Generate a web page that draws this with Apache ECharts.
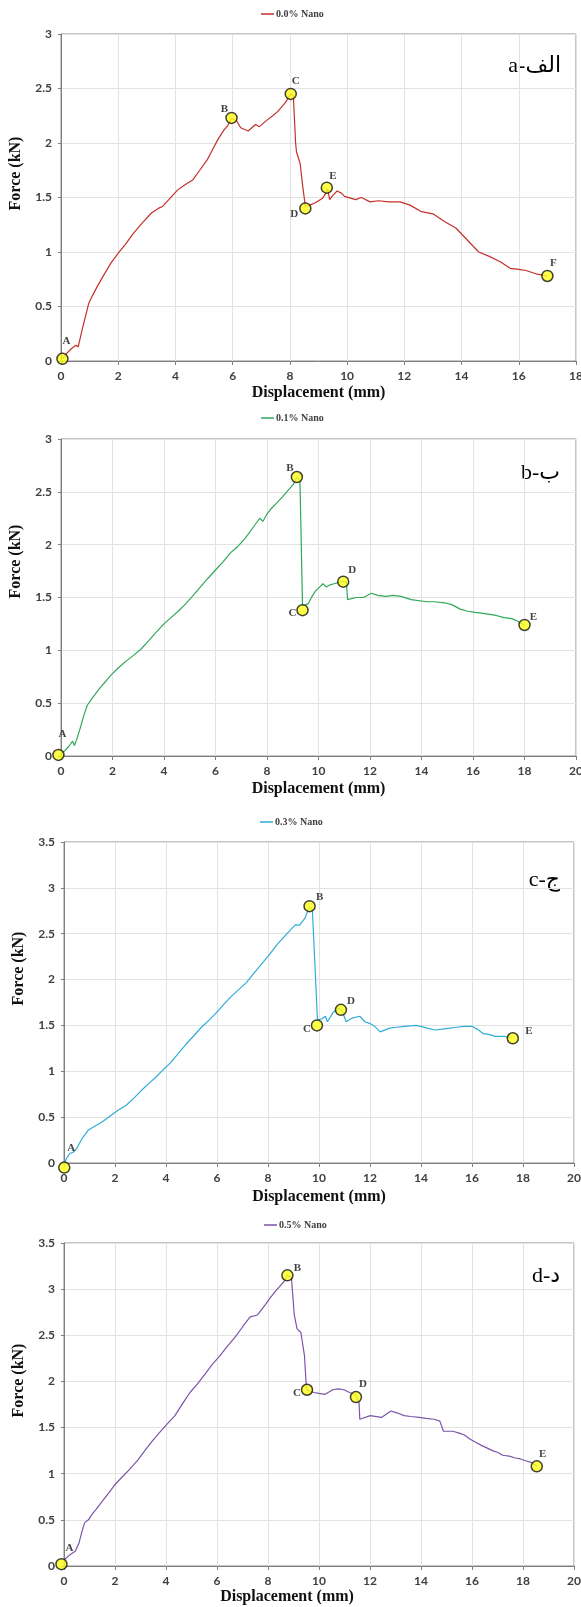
<!DOCTYPE html>
<html><head><meta charset="utf-8">
<script src="https://cdn.jsdelivr.net/npm/echarts@6/dist/echarts.min.js"></script>
<style>html,body{margin:0;padding:0;background:#fff}#c{width:581px;height:1607px}</style>
</head><body><div id="c"></div>
<script>
// ---------- data ----------
const seriesNames = ['0.0% Nano', '0.1% Nano', '0.3% Nano', '0.5% Nano'];
const panelTags = ['a-الف', 'b-ب', 'c-ج', 'd-د'];
const xMaxes = [18, 20, 20, 20];
const yMaxes = [3, 3, 3.5, 3.5];

const curveA = [[0.05,0.02],[0.2,0.07],[0.35,0.11],[0.45,0.13],[0.52,0.145],[0.6,0.13],[0.75,0.3],[0.97,0.53],[1.1,0.6],[1.26,0.68],[1.5,0.79],[1.75,0.9],[2.0,0.99],[2.25,1.07],[2.53,1.17],[2.85,1.27],[3.17,1.36],[3.4,1.40],[3.56,1.42],[3.8,1.49],[4.08,1.57],[4.35,1.62],[4.6,1.66],[4.85,1.75],[5.12,1.85],[5.3,1.94],[5.5,2.04],[5.7,2.12],[5.83,2.16],[5.96,2.23],[6.15,2.2],[6.28,2.14],[6.54,2.11],[6.8,2.17],[6.93,2.15],[7.2,2.21],[7.4,2.25],[7.58,2.29],[7.84,2.37],[8.03,2.45],[8.12,2.44],[8.2,2.0],[8.23,1.92],[8.36,1.81],[8.45,1.6],[8.54,1.42],[8.7,1.43],[8.87,1.45],[9.0,1.47],[9.13,1.49],[9.26,1.54],[9.32,1.58],[9.39,1.48],[9.5,1.52],[9.65,1.56],[9.8,1.54],[9.91,1.51],[10.3,1.48],[10.5,1.5],[10.8,1.46],[11.1,1.47],[11.46,1.46],[11.85,1.46],[12.2,1.43],[12.6,1.37],[13.0,1.35],[13.4,1.28],[13.8,1.22],[14.2,1.11],[14.6,1.0],[14.97,0.96],[15.35,0.91],[15.7,0.85],[16.0,0.84],[16.25,0.83],[16.6,0.80],[17.0,0.78]];
const curveB = [[0,0.025],[0.15,0.05],[0.3,0.09],[0.45,0.14],[0.52,0.10],[0.6,0.15],[0.73,0.25],[0.88,0.38],[1.02,0.48],[1.25,0.56],[1.53,0.65],[1.75,0.71],[1.96,0.77],[2.25,0.84],[2.54,0.9],[2.8,0.95],[3.1,1.01],[3.4,1.09],[3.69,1.17],[4.0,1.25],[4.27,1.31],[4.55,1.37],[4.84,1.44],[5.1,1.51],[5.42,1.6],[5.7,1.68],[6.0,1.76],[6.3,1.84],[6.57,1.92],[6.85,1.98],[7.15,2.06],[7.45,2.16],[7.72,2.25],[7.84,2.22],[8.0,2.29],[8.16,2.34],[8.4,2.4],[8.59,2.45],[8.8,2.51],[9.02,2.57],[9.16,2.64],[9.28,2.6],[9.38,1.42],[9.6,1.44],[9.75,1.51],[9.88,1.56],[10.05,1.6],[10.17,1.63],[10.3,1.6],[10.45,1.62],[10.6,1.63],[10.9,1.65],[11.08,1.65],[11.13,1.48],[11.47,1.5],[11.75,1.5],[12.05,1.54],[12.3,1.52],[12.62,1.51],[12.9,1.52],[13.2,1.51],[13.6,1.48],[14.2,1.46],[14.5,1.46],[14.9,1.45],[15.2,1.43],[15.5,1.39],[15.8,1.37],[16.08,1.36],[16.4,1.35],[16.65,1.34],[16.9,1.33],[17.2,1.31],[17.5,1.3],[17.7,1.28],[18.0,1.24]];
const curveC = [[0.04,0.01],[0.12,0.06],[0.22,0.10],[0.37,0.12],[0.5,0.16],[0.62,0.22],[0.74,0.28],[0.96,0.36],[1.2,0.40],[1.4,0.43],[1.6,0.47],[1.85,0.52],[2.15,0.58],[2.44,0.63],[2.75,0.71],[3.03,0.79],[3.3,0.86],[3.62,0.94],[3.9,1.02],[4.2,1.1],[4.5,1.2],[4.8,1.3],[5.1,1.39],[5.39,1.48],[5.7,1.56],[5.98,1.64],[6.3,1.74],[6.57,1.82],[6.85,1.89],[7.16,1.97],[7.45,2.07],[7.75,2.17],[8.05,2.27],[8.32,2.37],[8.55,2.44],[8.77,2.51],[9.08,2.6],[9.23,2.59],[9.45,2.67],[9.63,2.8],[9.74,2.76],[9.94,1.56],[10.1,1.57],[10.25,1.6],[10.33,1.54],[10.55,1.64],[10.77,1.69],[10.9,1.66],[11.07,1.54],[11.3,1.58],[11.6,1.6],[11.8,1.54],[12.0,1.52],[12.18,1.49],[12.4,1.43],[12.77,1.47],[13.05,1.48],[13.35,1.49],[13.8,1.5],[14.0,1.49],[14.24,1.47],[14.54,1.45],[14.85,1.46],[15.13,1.47],[15.4,1.48],[15.7,1.49],[16.0,1.49],[16.2,1.46],[16.45,1.41],[16.7,1.4],[16.9,1.38],[17.27,1.38],[17.56,1.36]];
const curveD = [[0,0.065],[0.22,0.12],[0.44,0.16],[0.59,0.25],[0.7,0.37],[0.81,0.47],[0.96,0.5],[1.1,0.56],[1.25,0.61],[1.55,0.72],[1.75,0.79],[1.99,0.88],[2.3,0.97],[2.58,1.05],[2.9,1.15],[3.17,1.25],[3.45,1.35],[3.76,1.45],[4.05,1.54],[4.35,1.63],[4.65,1.76],[4.94,1.88],[5.25,1.98],[5.53,2.08],[5.8,2.18],[6.12,2.28],[6.4,2.38],[6.71,2.48],[7.0,2.59],[7.3,2.7],[7.59,2.72],[7.89,2.83],[8.1,2.91],[8.33,2.99],[8.62,3.08],[8.76,3.15],[8.92,3.12],[9.03,2.72],[9.14,2.57],[9.29,2.53],[9.43,2.28],[9.5,1.95],[9.53,1.91],[9.8,1.88],[10.0,1.87],[10.24,1.86],[10.54,1.91],[10.75,1.92],[10.98,1.91],[11.2,1.88],[11.42,1.86],[11.57,1.77],[11.6,1.59],[12.01,1.63],[12.45,1.61],[12.82,1.68],[13.05,1.66],[13.34,1.63],[13.6,1.62],[13.93,1.61],[14.2,1.6],[14.52,1.59],[14.74,1.57],[14.88,1.46],[15.25,1.46],[15.5,1.44],[15.7,1.42],[15.9,1.38],[16.14,1.34],[16.35,1.31],[16.58,1.28],[16.8,1.25],[17.02,1.23],[17.2,1.2],[17.46,1.19],[17.7,1.17],[17.9,1.16],[18.1,1.14],[18.35,1.12],[18.54,1.08]];

const keyPointsA = [[0.05,0.02],[5.96,2.23],[8.03,2.45],[8.54,1.40],[9.29,1.59],[17.0,0.78]];
const keyPointsB = [[-0.1,0.01],[9.16,2.64],[9.38,1.38],[10.96,1.65],[18.0,1.24]];
const keyPointsC = [[0.01,-0.05],[9.63,2.8],[9.92,1.5],[10.86,1.67],[17.6,1.36]];
const keyPointsD = [[-0.1,0.02],[8.76,3.15],[9.53,1.91],[11.45,1.83],[18.54,1.08]];
const keyLabelsA = ['A','B','C','D','E','F'];
const keyLabelsB = ['A','B','C','D','E'];
const keyLabelsC = ['A','B','C','D','E'];
const keyLabelsD = ['A','B','C','D','E'];

// ---------- layout & style ----------
const curves = [curveA, curveB, curveC, curveD];
const keyPoints = [keyPointsA, keyPointsB, keyPointsC, keyPointsD];
const keyLabels = [keyLabelsA, keyLabelsB, keyLabelsC, keyLabelsD];
const colors = ['#c4302b', '#2fa85a', '#30acd6', '#7b55a8'];
const grids = [
  {left: 61, top: 34, width: 515, height: 327},
  {left: 61, top: 439, width: 515, height: 317},
  {left: 64, top: 842, width: 510, height: 321},
  {left: 64, top: 1243, width: 510, height: 323}
];
const legendPos = [[261, 9], [261, 413], [260, 817], [264, 1220]];
const tagPos = [[561, 66], [560, 473], [560, 880], [560, 1276]];
const xNameGap = [24, 25, 26, 23];
const xNamePad = [[0,0,0,0],[0,0,0,0],[0,0,0,0],[0,64,0,0]];
const yNamePad = [[0,0,0,48],[0,0,0,72],[0,0,0,68],[0,0,0,48]];
const yNameGap = [32, 33, 31, 32];
const labelOffsets = [
  [[4,-18],[-7,-9],[5,-13],[-11,6],[6,-12],[6,-13]],
  [[4,-21],[-7,-9],[-10,3],[9,-11],[9,-8]],
  [[7,-19],[10,-9],[-10,4],[10,-9],[16,-7]],
  [[8,-16],[10,-7],[-10,3],[7,-13],[6,-12]]
];

const tickFont = {fontFamily: 'Lato', fontWeight: 'bold', fontSize: 12, color: '#404040'};
const titleFont = {fontFamily: 'Liberation Serif', fontWeight: 'bold', fontSize: 16, color: '#111'};

const option = {
  animation: false,
  backgroundColor: '#fff',
  grid: grids.map(g => Object.assign({show: true, borderColor: '#8c8c8c', borderWidth: 1, containLabel: false, outerBoundsMode: 'none'}, g)),
  xAxis: grids.map((g, i) => ({
    type: 'value', gridIndex: i, min: 0, max: xMaxes[i], interval: 2,
    name: 'Displacement (mm)', nameLocation: 'middle', nameGap: xNameGap[i],
    nameTextStyle: Object.assign({padding: xNamePad[i]}, titleFont),
    axisLine: {show: true, onZero: false, lineStyle: {color: '#7f7f7f', width: 1}},
    axisTick: {show: true, length: 4, lineStyle: {color: '#7f7f7f'}},
    axisLabel: Object.assign({margin: 9, alignMaxLabel: 'center', alignMinLabel: 'center', showMaxLabel: true}, tickFont),
    splitLine: {show: true, lineStyle: {color: '#e3e3e3', width: 1}}
  })),
  yAxis: grids.map((g, i) => ({
    type: 'value', gridIndex: i, min: 0, max: yMaxes[i], interval: 0.5,
    name: 'Force (kN)', nameLocation: 'middle', nameGap: yNameGap[i],
    nameTextStyle: Object.assign({padding: yNamePad[i]}, titleFont),
    axisLine: {show: true, onZero: false, lineStyle: {color: '#7f7f7f', width: 1}},
    axisTick: {show: true, length: 3, lineStyle: {color: '#7f7f7f'}},
    axisLabel: Object.assign({margin: 9}, tickFont),
    splitLine: {show: true, lineStyle: {color: '#e3e3e3', width: 1}}
  })),
  legend: grids.map((g, i) => ({
    data: [seriesNames[i]], left: legendPos[i][0], top: legendPos[i][1],
    icon: 'rect', itemWidth: 13, itemHeight: 1.5, padding: 0,
    textStyle: {fontFamily: 'Liberation Serif', fontWeight: 'bold', fontSize: 10, color: '#404040', padding: [0,0,0,-3]}
  })),
  graphic: panelTags.map((t, i) => ({
    type: 'text', x: tagPos[i][0], y: tagPos[i][1], silent: true,
    style: {text: t, align: 'right', verticalAlign: 'middle', fill: '#000',
            font: '22px "Liberation Serif", "DejaVu Serif", "DejaVu Sans", serif'}
  })),
  series: []
};

curves.forEach((c, i) => {
  option.series.push({
    name: seriesNames[i], type: 'line', xAxisIndex: i, yAxisIndex: i,
    data: c, showSymbol: false, symbol: 'none', smooth: false,
    lineStyle: {color: colors[i], width: 1.2}, itemStyle: {color: colors[i]}, z: 2
  });
  option.series.push({
    name: 'points' + i, type: 'scatter', xAxisIndex: i, yAxisIndex: i, clip: false,
    symbol: 'circle', symbolSize: 11, z: 3,
    itemStyle: {color: '#ffff1a', borderColor: '#111', borderWidth: 1.5},
    data: keyPoints[i].map((p, j) => ({
      value: p,
      label: {show: true, formatter: keyLabels[i][j], position: 'inside', offset: labelOffsets[i][j],
              fontFamily: 'Liberation Serif', fontWeight: 'bold', fontSize: 11, color: '#111'}
    }))
  });
});

const chart = echarts.init(document.getElementById('c'), null, {renderer: 'canvas'});
chart.setOption(option);
</script>
</body></html>
